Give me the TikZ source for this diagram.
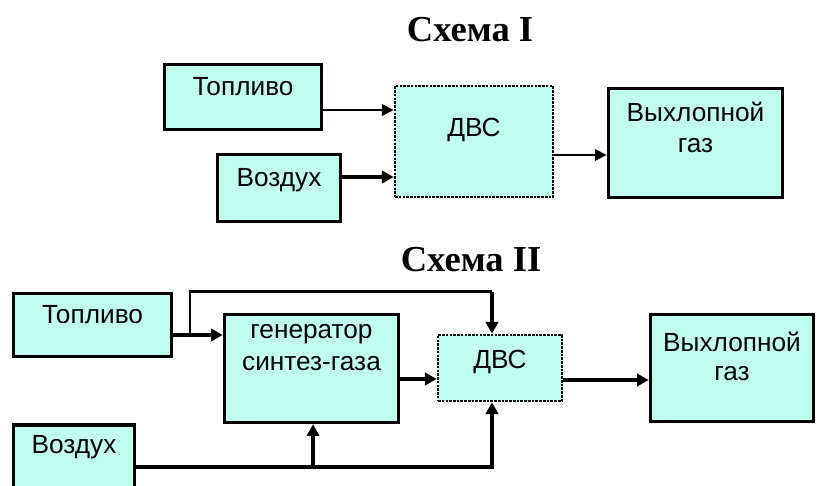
\documentclass[tikz,border=0pt]{standalone}
\usepackage{fontspec}
\setmainfont{Liberation Sans}
\newfontfamily\headfont{Liberation Serif}
\usetikzlibrary{
    arrows.meta,
    positioning
}
\definecolor{ink}{RGB}{0,0,0}
\definecolor{boxfill}{RGB}{192,255,240}
\tikzset{
    line cap=butt,
    line join=miter,
    block/.style={
        rectangle,
        draw=ink,
        line width=3pt,
        fill=boxfill,
        text=ink,
        align=center,
        inner sep=0pt,
        font=\fontsize{22.4}{27}\selectfont
    },
    oneline/.style={
        block,
        text height=0.75em,
        text depth=#1
    },
    engine/.style={
        oneline=#1,
        line width=2.2pt,
        densely dotted
    },
    twoline/.style={
        block,
        text depth=#1
    },
    flow/.style={
        -{Triangle[length=10pt, width=10.5pt]},
        draw=ink,
        line width=3.3pt
    },
    flowthin/.style={
        -{Triangle[length=10pt, width=9.5pt]},
        draw=ink,
        line width=2.3pt
    },
    tap/.style={
        draw=ink,
        line width=2.3pt
    },
    heading/.style={
        font=\headfont\bfseries\fontsize{31.2}{36}\selectfont,
        text=ink,
        anchor=base
    }
}

\begin{document}
\begin{tikzpicture}[x=0.03cm, y=-0.03cm]
\useasboundingbox (0,0) rectangle (817,486);
\begin{scope}
\clip (0,0) rectangle (817,486);

% Схема I
\node[heading] (titleA) at (470,42) {Схема I};

\node[oneline=0.36cm, minimum width=4.71cm, minimum height=1.95cm] (fuelA) at (243,97) {Топливо};
\node[oneline=0.36cm, minimum width=3.69cm, minimum height=2.01cm] (airA) at (279,188) {Воздух};
\node[engine=0.57cm, minimum width=4.74cm, minimum height=3.33cm] (iceA) at (474,141.5) {ДВС};
\node[twoline=0.94cm, minimum width=5.22cm, minimum height=3.27cm] (exhA) at (695.5,143) {Выхлопной\\газ};

\draw[flowthin] ([yshift=-0.39cm]fuelA.east) -- ([yshift=-0.39cm]fuelA.east -| iceA.west);
\draw[flow] ([yshift=0.33cm]airA.east) -- ([yshift=0.33cm]airA.east -| iceA.west);
\draw[flowthin] ([yshift=-0.405cm]iceA.east) -- ([yshift=-0.405cm]iceA.east -| exhA.west);

% Схема II
\node[heading] (titleB) at (471,272) {Схема II};

\node[oneline=0.36cm, minimum width=4.74cm, minimum height=1.89cm] (fuelB) at (92.5,325) {Топливо};
\node[oneline=0.66cm, minimum width=3.63cm, minimum height=2.1cm] (airB) at (74,460) {Воздух};
\node[twoline=1.28cm, minimum width=5.22cm, minimum height=3.24cm] (genB) at (311.5,368.5) {генератор\\синтез-газа};
\node[engine=0.24cm, minimum width=3.72cm, minimum height=1.98cm] (iceB) at (500,368) {ДВС};
\node[twoline=0.7cm, minimum width=4.89cm, minimum height=3.21cm, font=\fontsize{22.4}{24.5}\selectfont] (exhB) at (732,368) {Выхлопной\\газ};

\coordinate (fuelTap) at (190,335);
\coordinate (airTap) at (313,467);

\draw[flow] ([yshift=-0.3cm]fuelB.east) -- ([yshift=-0.3cm]fuelB.east -| genB.west);
\draw[tap] (fuelTap) |- ([xshift=-0.24cm]iceB.north |- fuelB.north);
\draw[flow] ([xshift=-0.24cm]iceB.north |- fuelB.north) -- ([xshift=-0.24cm]iceB.north);
\draw[flow] ([yshift=-0.315cm]genB.east) -- ([yshift=-0.315cm]genB.east -| iceB.west);
\draw[flow] ([yshift=-0.36cm]iceB.east) -- ([yshift=-0.36cm]iceB.east -| exhB.west);
\draw[flow] ([yshift=-0.21cm]airB.east) -| ([xshift=-0.24cm]iceB.south);
\draw[flow] (airTap) -- (airTap |- genB.south);

\end{scope}
\end{tikzpicture}
\end{document}
